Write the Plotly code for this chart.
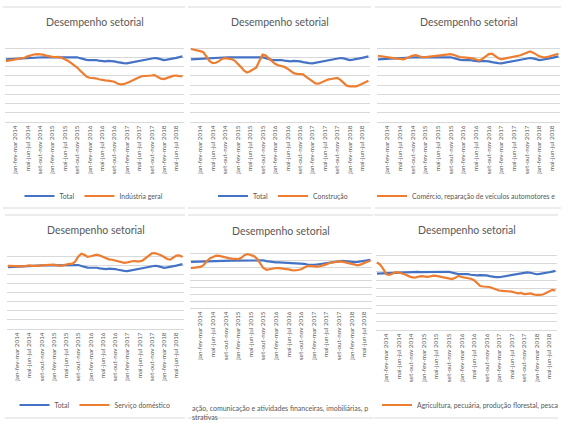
import plotly.graph_objects as go
from plotly.subplots import make_subplots

# trimestres moveis, de out-nov-dez 2013 ate jul-ago-set 2018
meses = ["jan", "fev", "mar", "abr", "mai", "jun", "jul", "ago", "set", "out", "nov", "dez"]
categorias = []
for k in range(58):
    m = 9 + k
    ano = 2013 + (m + 2) // 12
    categorias.append("%s-%s-%s %d" % (meses[m % 12], meses[(m + 1) % 12], meses[(m + 2) % 12], ano))
rotulos = categorias[3::4]

total = [99.0, 99.1, 99.0, 99.1, 99.2, 99.3, 99.4, 99.6, 99.8, 100.0,
         100.1, 100.2, 100.1, 100.0, 99.9, 99.9, 100.0, 100.0, 99.9, 100.0,
         100.1, 100.0, 100.2, 100.1, 99.6, 99.1, 98.7, 98.6, 98.7, 98.6,
         98.3, 98.0, 97.9, 98.1, 98.2, 97.9, 97.5, 97.1, 96.9, 96.8,
         97.1, 97.5, 97.9, 98.3, 98.6, 98.9, 99.2, 99.4, 99.7, 99.5,
         99.0, 98.6, 98.8, 99.0, 99.4, 99.8, 100.2, 100.6]

industria_geral = [98.0, 98.3, 98.2, 98.6, 98.9, 99.2, 99.8, 100.6, 101.3, 101.6,
                   101.8, 101.7, 101.5, 101.0, 100.5, 100.3, 100.2, 100.3, 99.8, 99.2,
                   98.2, 97.0, 95.8, 94.5, 92.8, 91.0, 89.6, 89.0, 88.9, 88.7,
                   88.2, 87.7, 87.6, 87.4, 87.3, 86.8, 85.9, 85.4, 85.5, 86.0,
                   86.8, 87.6, 88.5, 89.3, 89.8, 89.9, 89.7, 90.2, 90.4, 89.4,
                   88.5, 88.3, 89.0, 89.6, 90.0, 90.2, 89.8, 89.9]

construcao = [104.6, 104.3, 103.9, 103.4, 102.8, 100.5, 98.0, 96.9, 97.1, 98.0,
              99.2, 99.6, 99.5, 99.1, 98.3, 96.8, 94.9, 93.0, 91.8, 92.5,
              93.8, 94.6, 98.2, 101.5, 101.0, 99.4, 98.0, 96.6, 95.8, 95.4,
              94.9, 93.9, 92.7, 91.5, 91.1, 91.0, 90.8, 89.5, 88.3, 87.1,
              85.9, 85.8, 86.6, 87.2, 88.0, 88.3, 88.6, 88.9, 87.8, 86.0,
              84.7, 84.3, 84.1, 84.3, 84.9, 85.6, 86.7, 87.4]

comercio = [100.9, 100.6, 100.3, 100.1, 99.9, 99.6, 99.4, 99.2, 99.0, 99.6,
            100.3, 101.0, 101.2, 100.6, 100.1, 100.2, 100.4, 100.6, 100.7, 100.9,
            101.1, 101.3, 101.6, 101.8, 101.3, 100.6, 100.1, 100.0, 99.9, 99.8,
            99.5, 98.9, 98.3, 99.2, 100.6, 101.8, 102.1, 101.0, 99.6, 99.0,
            99.3, 99.8, 100.1, 100.4, 100.8, 101.2, 101.9, 102.7, 103.3, 102.6,
            101.4, 100.6, 100.2, 100.1, 100.5, 101.0, 101.6, 102.0]

servico_domestico = [99.6, 99.5, 99.3, 99.3, 99.2, 99.4, 99.7, 99.9, 99.6, 99.4,
                     99.6, 99.9, 100.1, 100.3, 100.5, 100.3, 99.9, 99.6, 99.9, 100.5,
                     100.8, 100.7, 102.0, 104.8, 106.3, 105.7, 104.6, 104.9, 105.4, 105.8,
                     105.3, 104.5, 103.8, 103.2, 103.0, 102.6, 102.0, 101.5, 101.3, 101.6,
                     102.0, 102.3, 102.1, 102.1, 102.6, 103.9, 105.3, 106.5, 106.7, 106.3,
                     105.5, 104.5, 103.4, 103.1, 104.2, 105.3, 105.4, 104.5]

informacao = [94.4, 94.6, 95.0, 95.3, 96.6, 99.5, 101.5, 102.8, 103.7, 103.5,
              102.8, 102.3, 101.8, 101.4, 101.2, 101.1, 102.0, 104.0, 104.8, 104.2,
              103.3, 101.3, 98.0, 94.5, 93.2, 93.8, 94.3, 94.5, 94.4, 94.2,
              93.8, 93.5, 93.0, 92.7, 93.0, 93.6, 94.8, 96.0, 96.1, 95.8,
              95.6, 95.9, 96.3, 97.2, 98.2, 98.6, 99.1, 99.4, 99.2, 98.7,
              98.1, 97.6, 97.2, 96.4, 97.2, 98.3, 99.2, 100.1]

agricultura = [105.8, 104.4, 101.8, 98.6, 98.2, 99.0, 99.8, 99.6, 99.2, 98.4,
               97.6, 96.8, 96.5, 97.0, 97.4, 97.3, 97.0, 97.3, 97.7, 97.6,
               97.2, 96.8, 96.1, 95.8, 95.7, 96.4, 97.6, 96.9, 96.7, 96.5,
               95.9, 95.0, 93.2, 91.5, 91.2, 91.0, 90.9, 90.2, 89.3, 88.8,
               88.6, 88.5, 88.3, 88.1, 87.6, 87.1, 87.3, 86.6, 86.8, 87.0,
               86.5, 86.1, 86.2, 86.4, 87.3, 88.3, 89.2, 88.8]

AZUL = "#4472C4"
LARANJA = "#ED7D31"
CINZA = "#595959"
GRADE = "#D9D9D9"
FONTE = "Lato"
W, H = 567, 425

# posicoes em pixels de cada painel
paineis = [
    dict(serie=industria_geral, nome="Indústria geral", x0=5, x1=184, y0=39, y1=122, ymax=110,
         leg=dict(x=94, y=196, xanchor="center"), total_leg=True, titulo_y=22),
    dict(serie=construcao, nome="Construção", x0=190, x1=370, y0=39, y1=122, ymax=110,
         leg=dict(x=283, y=196, xanchor="center"), total_leg=True, titulo_y=22),
    dict(serie=comercio, nome="Comércio, reparação de veículos automotores e", x0=377, x1=560,
         y0=39, y1=122, ymax=110, leg=dict(x=372, y=196, xanchor="left"), total_leg=False, titulo_y=22),
    dict(serie=servico_domestico, nome="Serviço doméstico", x0=7, x1=184, y0=247, y1=329, ymax=110,
         leg=dict(x=95, y=405, xanchor="center"), total_leg=True, titulo_y=230),
    dict(serie=informacao, nome="Informação, comunicação e atividades financeiras", x0=190, x1=372,
         y0=247, y1=308, ymax=110, leg=None, total_leg=False, titulo_y=231),
    dict(serie=agricultura, nome="Agricultura, pecuária, produção florestal, pesca", x0=376, x1=557,
         y0=247, y1=330, ymax=115, leg=dict(x=377, y=405, xanchor="left"), total_leg=False, titulo_y=230),
]

fig = make_subplots(rows=2, cols=3)
anotacoes = []
formas = []
legendas = {}
for i, p in enumerate(paineis):
    n = i + 1
    linha, coluna = i // 3 + 1, i % 3 + 1
    leg_id = "legend" if n == 1 else "legend%d" % n
    fig.add_trace(go.Scatter(x=categorias, y=total, mode="lines", name="Total",
                             line=dict(color=AZUL, width=2.2), legend=leg_id,
                             showlegend=p["total_leg"]), row=linha, col=coluna)
    fig.add_trace(go.Scatter(x=categorias, y=p["serie"], mode="lines", name=p["nome"],
                             line=dict(color=LARANJA, width=2.2), legend=leg_id,
                             showlegend=p["leg"] is not None), row=linha, col=coluna)
    sufixo = "" if n == 1 else str(n)
    fig.layout["xaxis" + sufixo].update(
        domain=[p["x0"] / W, p["x1"] / W], type="category", range=[-0.3, 57.5],
        tickmode="array", tickvals=rotulos, ticktext=rotulos, tickangle=-90,
        tickfont=dict(family=FONTE, size=6.3, color=CINZA), showgrid=False,
        showline=True, linecolor=GRADE, linewidth=1, ticks="", zeroline=False)
    fig.layout["yaxis" + sufixo].update(
        domain=[1 - p["y1"] / H, 1 - p["y0"] / H], range=[65, p["ymax"]], dtick=5, tick0=65,
        showticklabels=False, showgrid=True, gridcolor=GRADE, gridwidth=1, zeroline=False, ticks="")
    anotacoes.append(dict(text="Desempenho setorial", xref="paper", yref="paper",
                          x=(p["x0"] + p["x1"]) / 2 / W, y=1 - p["titulo_y"] / H,
                          xanchor="center", yanchor="middle", showarrow=False,
                          font=dict(family=FONTE, size=10.5, color=CINZA)))
    if p["leg"] is not None:
        legendas[leg_id] = dict(visible=True, orientation="h", x=p["leg"]["x"] / W,
                                y=1 - p["leg"]["y"] / H, xanchor=p["leg"]["xanchor"],
                                yanchor="middle", bgcolor="rgba(0,0,0,0)", itemwidth=30,
                                font=dict(family=FONTE, size=6.9, color=CINZA))
    # bordas cinza das areas de grafico recortadas
    topo = 7 if linha == 1 else 215
    base = 208 if linha == 1 else 418
    for yy in (topo, base):
        formas.append(dict(type="line", xref="paper", yref="paper",
                           x0=(p["x0"] - 2) / W, x1=(p["x1"] + 1) / W, y0=1 - yy / H, y1=1 - yy / H,
                           line=dict(color=GRADE, width=1)))

# legenda recortada do painel 5
anotacoes.append(dict(text="ação, comunicação e atividades financeiras, imobiliárias, p<br>strativas",
                      xref="paper", yref="paper", x=190 / W, y=1 - 412 / H, xanchor="left",
                      yanchor="middle", align="left", showarrow=False,
                      font=dict(family=FONTE, size=7, color=CINZA)))

fig.update_layout(width=W, height=H, margin=dict(l=0, r=0, t=0, b=0),
                  plot_bgcolor="white", paper_bgcolor="white", showlegend=True,
                  annotations=anotacoes, shapes=formas, **legendas)

# sem a margem padrao da pagina, a figura ocupa a janela toda
fig.write_html("out.html", config={"displayModeBar": False},
               post_script="document.body.style.margin='0';")
